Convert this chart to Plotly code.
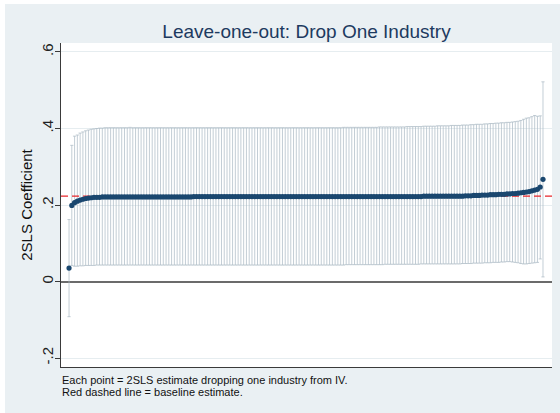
import plotly.graph_objects as go

# ---- data ----
baseline = 0.223

est = [
    0.035, 0.199, 0.206, 0.210, 0.213, 0.215, 0.217, 0.218, 0.219, 0.220,
    0.220, 0.220, 0.221, 0.221, 0.221, 0.221, 0.221, 0.221, 0.221, 0.221,
    0.221, 0.221, 0.221, 0.221, 0.221, 0.221, 0.221, 0.221, 0.221, 0.221,
    0.221, 0.221, 0.221, 0.221, 0.221, 0.221, 0.221, 0.221, 0.221, 0.221,
    0.221, 0.221, 0.221, 0.221, 0.221, 0.222, 0.222, 0.222, 0.222, 0.222,
    0.222, 0.222, 0.222, 0.222, 0.222, 0.222, 0.222, 0.222, 0.222, 0.222,
    0.222, 0.222, 0.222, 0.222, 0.222, 0.222, 0.222, 0.222, 0.222, 0.222,
    0.222, 0.222, 0.222, 0.222, 0.222, 0.222, 0.222, 0.222, 0.222, 0.222,
    0.222, 0.222, 0.222, 0.222, 0.222, 0.222, 0.222, 0.222, 0.222, 0.222,
    0.222, 0.222, 0.222, 0.222, 0.222, 0.222, 0.222, 0.222, 0.222, 0.222,
    0.222, 0.222, 0.222, 0.222, 0.222, 0.222, 0.222, 0.222, 0.222, 0.222,
    0.222, 0.222, 0.222, 0.222, 0.222, 0.222, 0.222, 0.222, 0.222, 0.222,
    0.222, 0.222, 0.222, 0.222, 0.222, 0.222, 0.222, 0.222, 0.223, 0.223,
    0.223, 0.223, 0.223, 0.223, 0.223, 0.223, 0.223, 0.223, 0.223, 0.223,
    0.223, 0.223, 0.223, 0.224, 0.224, 0.224, 0.225, 0.225, 0.225, 0.226,
    0.226, 0.226, 0.227, 0.227, 0.227, 0.228, 0.228, 0.228, 0.229, 0.229,
    0.230, 0.230, 0.231, 0.232, 0.233, 0.234, 0.235, 0.237, 0.239, 0.241,
    0.247, 0.267,
]

ci_hi = [
    0.162, 0.356, 0.380, 0.383, 0.388, 0.391, 0.394, 0.396, 0.398, 0.399,
    0.400, 0.401, 0.401, 0.402, 0.402, 0.402, 0.402, 0.402, 0.402, 0.402,
    0.402, 0.402, 0.403, 0.402, 0.402, 0.402, 0.402, 0.402, 0.402, 0.402,
    0.402, 0.402, 0.402, 0.402, 0.402, 0.402, 0.402, 0.402, 0.402, 0.402,
    0.402, 0.402, 0.402, 0.402, 0.402, 0.402, 0.402, 0.402, 0.402, 0.402,
    0.402, 0.402, 0.402, 0.402, 0.402, 0.402, 0.402, 0.402, 0.402, 0.402,
    0.402, 0.402, 0.402, 0.402, 0.402, 0.402, 0.402, 0.402, 0.402, 0.402,
    0.402, 0.402, 0.402, 0.402, 0.402, 0.402, 0.402, 0.402, 0.402, 0.402,
    0.402, 0.402, 0.402, 0.402, 0.402, 0.402, 0.402, 0.402, 0.402, 0.402,
    0.402, 0.402, 0.402, 0.402, 0.402, 0.402, 0.402, 0.402, 0.402, 0.403,
    0.403, 0.403, 0.403, 0.403, 0.403, 0.403, 0.403, 0.403, 0.403, 0.403,
    0.403, 0.403, 0.404, 0.404, 0.404, 0.404, 0.404, 0.404, 0.404, 0.404,
    0.404, 0.404, 0.405, 0.405, 0.405, 0.405, 0.405, 0.405, 0.406, 0.406,
    0.406, 0.406, 0.406, 0.407, 0.407, 0.407, 0.407, 0.407, 0.408, 0.408,
    0.408, 0.408, 0.409, 0.409, 0.409, 0.410, 0.410, 0.411, 0.411, 0.411,
    0.412, 0.412, 0.413, 0.413, 0.414, 0.414, 0.415, 0.415, 0.416, 0.416,
    0.417, 0.418, 0.419, 0.421, 0.424, 0.427, 0.428, 0.431, 0.434, 0.432,
    0.433, 0.522,
]

ci_lo = [
    -0.092, 0.042, 0.040, 0.040, 0.041, 0.041, 0.042, 0.042, 0.042, 0.042,
    0.043, 0.043, 0.043, 0.043, 0.043, 0.043, 0.043, 0.043, 0.043, 0.043,
    0.043, 0.043, 0.043, 0.043, 0.043, 0.043, 0.043, 0.043, 0.043, 0.043,
    0.043, 0.043, 0.043, 0.043, 0.043, 0.043, 0.043, 0.043, 0.043, 0.043,
    0.043, 0.043, 0.043, 0.043, 0.043, 0.043, 0.043, 0.043, 0.043, 0.043,
    0.043, 0.043, 0.043, 0.043, 0.043, 0.043, 0.043, 0.043, 0.043, 0.043,
    0.043, 0.043, 0.043, 0.043, 0.043, 0.043, 0.043, 0.043, 0.043, 0.043,
    0.043, 0.043, 0.043, 0.043, 0.043, 0.043, 0.043, 0.043, 0.043, 0.043,
    0.043, 0.043, 0.043, 0.043, 0.043, 0.043, 0.043, 0.043, 0.043, 0.043,
    0.043, 0.043, 0.043, 0.043, 0.043, 0.043, 0.043, 0.043, 0.043, 0.043,
    0.044, 0.044, 0.044, 0.044, 0.044, 0.044, 0.044, 0.044, 0.044, 0.044,
    0.044, 0.044, 0.044, 0.044, 0.045, 0.045, 0.045, 0.045, 0.045, 0.045,
    0.045, 0.045, 0.045, 0.045, 0.045, 0.045, 0.045, 0.046, 0.046, 0.046,
    0.046, 0.046, 0.046, 0.046, 0.046, 0.046, 0.046, 0.046, 0.046, 0.046,
    0.046, 0.046, 0.047, 0.047, 0.047, 0.047, 0.048, 0.048, 0.048, 0.048,
    0.049, 0.049, 0.049, 0.050, 0.050, 0.050, 0.051, 0.051, 0.052, 0.052,
    0.051, 0.050, 0.049, 0.047, 0.046, 0.046, 0.047, 0.048, 0.049, 0.050,
    0.059, 0.012,
]

y_tickvals = [-0.2, 0, 0.2, 0.4, 0.6]
y_ticktext = ["-.2", "0", ".2", ".4", ".6"]

title_text = "Leave-one-out: Drop One Industry"
y_title = "2SLS Coefficient"
note_lines = [
    "Each point = 2SLS estimate dropping one industry from IV.",
    "Red dashed line = baseline estimate.",
]

# ---- figure ----
n = len(est)
xs = list(range(1, n + 1))
x_min, x_max = 1 - 2.9, n + 3.25

FONT = "Liberation Sans, Arial, Helvetica, sans-serif"
NAVY = "#1a476f"
BG = "#eaf0f3"

fig = go.Figure()

# confidence intervals (rcap style)
fig.add_trace(go.Scatter(
    x=xs, y=est, mode="markers",
    marker=dict(size=1, opacity=0),
    error_y=dict(
        type="data", symmetric=False,
        array=[h - e for h, e in zip(ci_hi, est)],
        arrayminus=[e - l for e, l in zip(est, ci_lo)],
        color="#a9b7c3", thickness=0.7, width=1.6,
    ),
    hoverinfo="skip", showlegend=False,
))

# baseline estimate
fig.add_trace(go.Scatter(
    x=[x_min, x_max], y=[baseline, baseline], mode="lines",
    line=dict(color="#e8262b", width=1.2, dash="7px,4px"),
    hoverinfo="skip", showlegend=False,
))

# point estimates
fig.add_trace(go.Scatter(
    x=xs, y=est, mode="markers",
    marker=dict(size=5.2, color=NAVY, line=dict(width=0)),
    showlegend=False,
))

fig.update_layout(
    width=560, height=413,
    margin=dict(l=61, r=8, t=43, b=46),
    paper_bgcolor=BG, plot_bgcolor="white",
    font=dict(family=FONT, color="#222"),
    title=dict(
        text=title_text, x=0.5, xref="paper", xanchor="center",
        y=1 - 31 / 413, yref="container", yanchor="middle",
        font=dict(size=19, color="#1d3a5f", family=FONT),
    ),
    xaxis=dict(
        range=[x_min, x_max], showgrid=False, zeroline=False,
        showticklabels=False, ticks="", showline=True,
        linecolor="#3a3a3a", linewidth=1.3,
    ),
    yaxis=dict(
        range=[-0.2235, 0.6235], tickvals=y_tickvals, ticktext=y_ticktext,
        tickangle=-90, ticks="outside", ticklen=5, tickcolor="#3a3a3a",
        tickfont=dict(size=15, color="#222"), ticklabelstandoff=-4,
        showline=True, linecolor="#3a3a3a", linewidth=1.3,
        showgrid=True, gridcolor="#e6edf0", gridwidth=1,
        zeroline=True, zerolinecolor="#6b6b6b", zerolinewidth=1.6,
        title=dict(text=y_title, font=dict(size=15, color="#111"), standoff=2),
    ),
    shapes=[
        dict(type="rect", xref="paper", yref="paper",
             x0=-0.2, x1=1.1, y0=(367 - 4) / 324, y1=1.3,
             fillcolor="white", line=dict(width=0), layer="below"),
        dict(type="rect", xref="paper", yref="paper",
             x0=-0.2, x1=(5 - 61) / 491, y0=-0.3, y1=1.3,
             fillcolor="white", line=dict(width=0), layer="below"),
    ],
)

for i, line in enumerate(note_lines):
    fig.add_annotation(
        text=line, xref="paper", yref="paper",
        x=(60 - 61) / 491, y=(367 - (380 + 12 * i)) / 324,
        xanchor="left", yanchor="middle", showarrow=False,
        font=dict(size=11, color="#111", family=FONT),
    )

fig.write_html("out.html")
